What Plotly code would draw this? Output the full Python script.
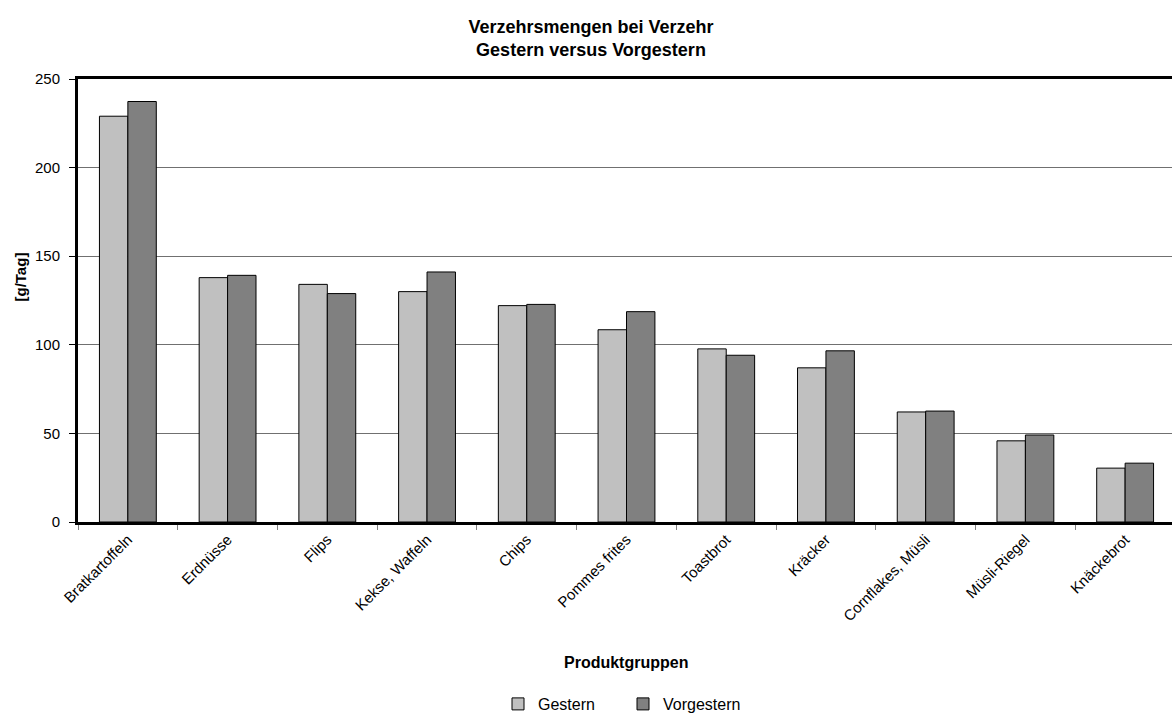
import plotly.graph_objects as go

categories = ["Bratkartoffeln", "Erdnüsse", "Flips", "Kekse, Waffeln", "Chips",
              "Pommes frites", "Toastbrot", "Kräcker", "Cornflakes, Müsli",
              "Müsli-Riegel", "Knäckebrot"]
gestern = [229, 137.9, 134.1, 130.0, 122.1, 108.5, 97.7, 87.0, 62.1, 45.8, 30.4]
vorgestern = [237.3, 139.2, 128.9, 141.1, 122.8, 118.7, 94.1, 96.6, 62.6, 49.1, 33.2]
y_ticks = [0, 50, 100, 150, 200, 250]

FONT = "Liberation Sans, Arial, sans-serif"
W, H = 1172, 717
L, T, B, R = 78, 79, 195, 0
PH = H - T - B

fig = go.Figure()
fig.add_trace(go.Bar(x=categories, y=gestern, name="Gestern",
                     marker=dict(color="#C0C0C0", line=dict(color="#000000", width=1))))
fig.add_trace(go.Bar(x=categories, y=vorgestern, name="Vorgestern",
                     marker=dict(color="#808080", line=dict(color="#000000", width=1))))

fig.update_layout(
    width=W, height=H,
    margin=dict(l=L, r=R, t=T, b=B, pad=0),
    paper_bgcolor="white", plot_bgcolor="white",
    font=dict(family=FONT, size=15, color="#000000"),
    barmode="group", bargap=0.43, bargroupgap=0,
    title=dict(text="<b>Verzehrsmengen bei Verzehr<br>Gestern versus Vorgestern</b>",
               x=591 / W, xref="container", xanchor="center",
               y=1 - 33 / H, yref="container", yanchor="middle",
               font=dict(family=FONT, size=18, color="#000000")),
    showlegend=True,
    legend=dict(orientation="h", xref="container", yref="container",
                x=498 / W, xanchor="left", y=1 - 704 / H, yanchor="middle",
                font=dict(family=FONT, size=16), itemwidth=30,
                entrywidth=80, entrywidthmode="pixels",
                traceorder="normal", bgcolor="rgba(0,0,0,0)"),
    xaxis=dict(range=[-0.5, 10.47], showline=True, linecolor="#000000", linewidth=3,
               mirror=True, ticks="outside", tickson="boundaries", ticklen=5,
               tickcolor="#808080", tickangle=-45, showgrid=False, automargin=False,
               tickfont=dict(family=FONT, size=15, color="#000000")),
    yaxis=dict(range=[0, 250], tickvals=y_ticks, showline=True, linecolor="#000000",
               linewidth=3, ticks="outside", ticklen=6, tickcolor="#000000",
               ticklabelstandoff=6,
               showgrid=True, gridcolor="#707070", gridwidth=1, zeroline=False,
               automargin=False,
               tickfont=dict(family=FONT, size=15, color="#000000")),
    annotations=[
        dict(text="<b>[g/Tag]</b>", xref="paper", yref="paper",
             x=(19.5 - L) / (W - L - R), y=(H - B - 277) / PH,
             textangle=-90, showarrow=False, xanchor="center", yanchor="middle",
             font=dict(family=FONT, size=15, color="#000000")),
        dict(text="<b>Produktgruppen</b>", xref="paper", yref="paper",
             x=(626 - L) / (W - L - R), y=(H - B - 662) / PH,
             showarrow=False, xanchor="center", yanchor="middle",
             font=dict(family=FONT, size=16, color="#000000")),
    ],
)

fig.write_html("out.html",
               config={"displayModeBar": False},
               post_script="document.body.style.margin='0';document.body.style.padding='0';")
